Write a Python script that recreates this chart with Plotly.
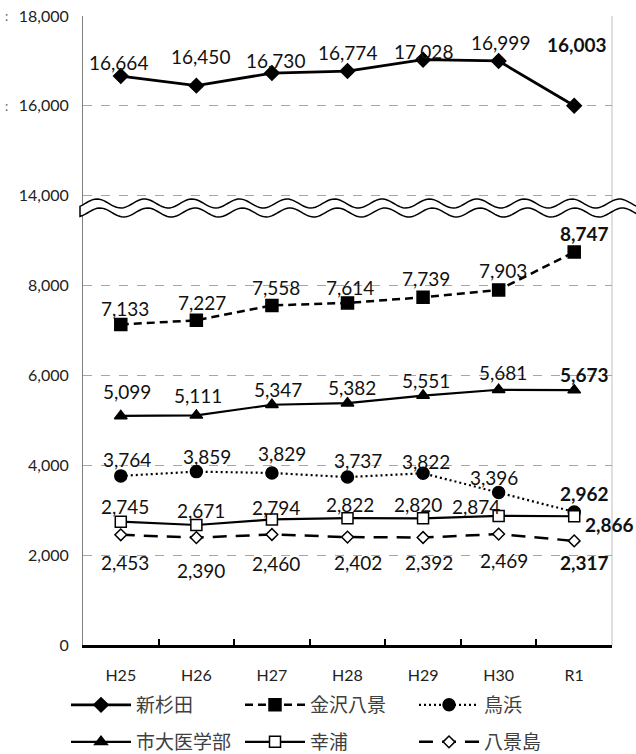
import numpy as np
import plotly.graph_objects as go

# ---------------- data ----------------
years = ["H25", "H26", "H27", "H28", "H29", "H30", "R1"]
shinsugita = [16664, 16450, 16730, 16774, 17028, 16999, 16003]
kanazawa_hakkei = [7133, 7227, 7558, 7614, 7739, 7903, 8747]
torihama = [3764, 3859, 3829, 3737, 3822, 3396, 2962]
shidai_igakubu = [5099, 5111, 5347, 5382, 5551, 5681, 5673]
sachiura = [2745, 2671, 2794, 2822, 2820, 2874, 2866]
hakkeijima = [2453, 2390, 2460, 2402, 2392, 2469, 2317]
y_tick_values = [0, 2000, 4000, 6000, 8000, 14000, 16000, 18000]

# ---------------- broken-axis scale ----------------
BREAK_AT = 10000   # values above this are shifted down by GAP
GAP = 4000


def fwd(v):
    return v if v <= BREAK_AT else v - GAP


# ---------------- styles ----------------
NUM_FONT = "Lato"
JP_FONT = "Noto Sans CJK JP"
FIG_W, FIG_H = 636, 754

series = [
    # name, values, line dash, line width, marker symbol, size, fill, legend
    ("新杉田", shinsugita, "solid", 2.8, "diamond", 11, "black", "legend"),
    ("金沢八景", kanazawa_hakkei, "8px,5px", 2.5, "square", 12, "black", "legend"),
    ("鳥浜", torihama, "2px,3px", 2.2, "circle", 12, "black", "legend"),
    ("市大医学部", shidai_igakubu, "solid", 2.2, "triangle-up", 11, "black", "legend2"),
    ("幸浦", sachiura, "solid", 2.2, "square", 11, "white", "legend2"),
    ("八景島", hakkeijima, "14px,9px", 2.5, "diamond", 9, "white", "legend2"),
]

# label offsets (dx, dy in pixels; dy > 0 means below the marker)
label_offsets = {
    "新杉田": [(-2, -14), (4, -29), (4, -13), (0, -19), (0, -8), (2, -18), (3, -61)],
    "金沢八景": [(4, -16), (6, -18), (4, -18), (2, -15), (3, -19), (4, -19), (10, -19)],
    "鳥浜": [(6, -16), (11, -15), (10, -19), (10, -17), (3, -12), (-5, -15), (10, -18)],
    "市大医学部": [(6, -24), (2, -20), (6, -15), (4, -16), (3, -15), (4, -17), (10, -16)],
    "幸浦": [(4, -15), (5, -15), (4, -12), (2, -14), (-5, -14), (-23, -9), (35, 8)],
    "八景島": [(4, 28), (5, 33), (4, 29), (10, 25), (6, 25), (5, 26), (10, 22)],
}

# ---------------- plot-area box (pixels) ----------------
L, R, T, B = 83, 612, 16, 645
W, H = R - L, B - T
YMAX = fwd(max(y_tick_values))

fig = go.Figure()

annotations = []
for name, vals, dash, lw, sym, msize, mfill, leg in series:
    fig.add_trace(go.Scatter(
        x=years, y=[fwd(v) for v in vals], name=name, mode="lines+markers",
        line=dict(color="black", width=lw, dash=dash),
        marker=dict(symbol=sym, size=msize, color=mfill,
                    line=dict(color="black", width=1.5)),
        legend=leg, hoverinfo="skip",
    ))
    offs = label_offsets[name]
    for i, (yr, v) in enumerate(zip(years, vals)):
        dx, dy = offs[i]
        txt = f"{v:,}"
        if i == len(vals) - 1:
            txt = f"<b>{txt}</b>"
        annotations.append(dict(
            x=yr, y=fwd(v), xref="x", yref="y", text=txt, showarrow=False,
            xanchor="center", yanchor="middle", xshift=dx, yshift=-dy,
            font=dict(family=NUM_FONT, size=19, color="#111111"),
        ))

# small clipped-glyph marks left of the two top tick labels (as in the source)
for tv in (16000, 18000):
    annotations.append(dict(
        x=(6 - L) / W, xref="paper", y=fwd(tv), yref="y", text=":",
        showarrow=False, xanchor="center", yanchor="middle",
        font=dict(family=NUM_FONT, size=13, color="#666666"),
    ))

# ---------------- wavy break band (decoration) ----------------


def to_paper_x(px):
    return (px - L) / W


def to_data_y(py):
    return (B - py) / H * YMAX


px = np.linspace(80, 660, 240)
period = 47.5
up = 203.5 - 4.5 * np.cos(2 * np.pi * (px - 97) / period)
lo = 212.5 - 4.5 * np.cos(2 * np.pi * (px - 100) / period)
pts = [f"{to_paper_x(a):.5f},{to_data_y(b):.3f}" for a, b in zip(px, up)]
pts += [f"{to_paper_x(a):.5f},{to_data_y(b):.3f}" for a, b in zip(px[::-1], lo[::-1])]
wave_path = "M " + " L ".join(pts) + " Z"

shapes = [
    dict(type="line", xref="paper", yref="paper", x0=1, x1=1, y0=0, y1=1,
         line=dict(color="#bfbfbf", width=1), layer="below"),
    dict(type="path", xref="paper", yref="y", path=wave_path,
         fillcolor="white", line=dict(color="black", width=1.5), layer="above"),
]

legend_common = dict(
    orientation="h", xref="container", yref="container",
    x=66 / FIG_W, xanchor="left", yanchor="middle",
    entrywidth=99, entrywidthmode="pixels", itemwidth=60,
    font=dict(family=JP_FONT, size=19, color="#404040"),
    bgcolor="rgba(0,0,0,0)", traceorder="normal",
)

fig.update_layout(
    width=FIG_W, height=FIG_H,
    margin=dict(l=L, r=FIG_W - R, t=T, b=FIG_H - B, autoexpand=False),
    paper_bgcolor="white", plot_bgcolor="white",
    showlegend=True,
    annotations=annotations,
    shapes=shapes,
    xaxis=dict(
        type="category", range=[-0.5, len(years) - 0.5],
        showline=True, linecolor="black", linewidth=2.5,
        ticks="inside", tickson="boundaries", ticklen=6, tickwidth=1.5,
        tickcolor="black", showgrid=False, ticklabelstandoff=14,
        tickfont=dict(family=NUM_FONT, size=16, color="#222222"),
    ),
    yaxis=dict(
        range=[0, YMAX],
        tickvals=[fwd(v) for v in y_tick_values],
        ticktext=[f"{v:,}" for v in y_tick_values],
        showgrid=True, gridcolor="#a6a6a6", griddash="dash", gridwidth=1,
        showline=True, linecolor="#7f7f7f", linewidth=1,
        zeroline=False, ticks="", ticklabelstandoff=10,
        tickfont=dict(family=NUM_FONT, size=16, color="#222222"),
    ),
    legend=dict(legend_common, y=1 - 705 / FIG_H),
    legend2=dict(legend_common, y=1 - 742 / FIG_H),
)

fig.write_html("out.html", config={"displayModeBar": False},
               post_script="document.body.style.margin='0px';")
